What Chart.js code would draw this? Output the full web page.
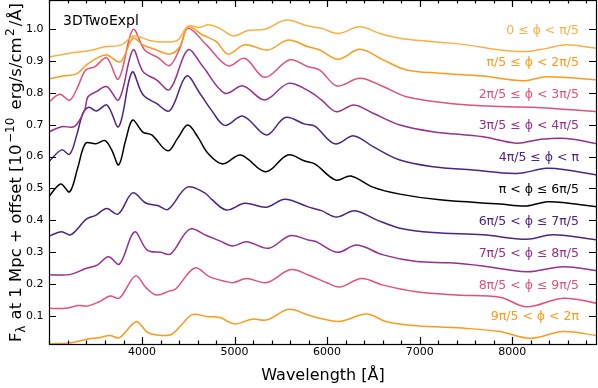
<!DOCTYPE html>
<html>
<head>
<meta charset="utf-8">
<script src="https://cdn.jsdelivr.net/npm/chart.js@4.4.0/dist/chart.umd.min.js"></script>
<style>
html, body { margin: 0; padding: 0; background: #fff; }
</style>
</head>
<body>
<canvas id="spec" width="598" height="388"></canvas>
<script>
// wavelengths [Å] and flux + offset, one pair per phase bin
const wave0 = [2990,3218,3435,3597,3777,3910,4083,4240,4386,4497,4624,4714,4840,4984,5143,5326,5561,5791,5939,6119,6354,6570,6786,7143,7507,7867,8156,8372,8588,8920];
const flux0 = [0.912,0.925,0.933,0.945,0.951,0.979,0.965,0.960,0.966,1.010,1.006,1.014,1.003,0.979,0.996,1.000,1.029,1.010,1.003,0.987,1.008,0.987,0.972,0.961,0.951,0.935,0.930,0.940,0.951,0.940];

const wave1 = [2990,3146,3291,3399,3543,3624,3766,3903,4008,4156,4299,4408,4497,4656,4804,4930,5110,5362,5579,5795,5921,6119,6354,6605,6858,7218,7683,8116,8372,8920];
const flux1 = [0.844,0.853,0.860,0.888,0.914,0.919,0.898,0.972,0.951,0.935,0.922,0.945,1.007,0.982,0.961,0.922,0.951,0.935,0.966,0.945,0.935,0.906,0.937,0.904,0.872,0.862,0.853,0.838,0.851,0.841];

const wave2 = [2990,3110,3218,3295,3391,3489,3618,3745,3903,4029,4173,4299,4408,4497,4696,4930,5110,5326,5597,5795,5921,6105,6354,6605,6858,7326,7867,8224,8920];
const flux2 = [0.770,0.796,0.777,0.812,0.872,0.882,0.910,0.844,0.999,0.935,0.911,0.886,0.940,1.003,0.951,0.885,0.909,0.849,0.904,0.882,0.872,0.822,0.846,0.820,0.788,0.767,0.757,0.755,0.741];

const wave3 = [2990,3129,3272,3381,3416,3507,3618,3748,3903,4011,4156,4299,4497,4659,4894,5092,5326,5581,5795,5939,6100,6289,6497,6786,7143,7683,8048,8299,8588,8920];
const flux3 = [0.677,0.694,0.695,0.747,0.788,0.804,0.820,0.778,0.935,0.867,0.841,0.811,0.935,0.882,0.799,0.822,0.778,0.830,0.807,0.778,0.741,0.762,0.736,0.699,0.678,0.662,0.642,0.654,0.657,0.640];

const wave4 = [2990,3132,3218,3295,3362,3427,3507,3622,3748,3892,4011,4156,4299,4480,4624,4750,4894,5092,5345,5548,5759,5867,6083,6289,6497,6786,7143,7575,8048,8372,8588,8920];
const flux4 = [0.583,0.621,0.607,0.668,0.736,0.755,0.743,0.762,0.694,0.865,0.794,0.767,0.744,0.853,0.799,0.746,0.698,0.727,0.668,0.723,0.702,0.696,0.640,0.665,0.631,0.589,0.568,0.558,0.547,0.563,0.558,0.542];

const wave5 = [2990,3121,3218,3305,3391,3499,3600,3672,3748,3824,3899,4008,4105,4278,4386,4494,4602,4710,4872,5067,5337,5575,5759,5867,6094,6256,6494,6786,7218,7867,8159,8375,8591,8920];
const flux5 = [0.473,0.514,0.489,0.564,0.642,0.640,0.650,0.621,0.574,0.652,0.715,0.677,0.668,0.618,0.658,0.699,0.662,0.611,0.577,0.605,0.552,0.605,0.586,0.577,0.526,0.539,0.504,0.482,0.464,0.451,0.445,0.458,0.454,0.442];

const wave6 = [2990,3129,3229,3402,3499,3618,3741,3899,4040,4170,4281,4489,4678,4750,4912,5110,5345,5543,5795,5939,6102,6300,6534,6786,7143,7683,8156,8440,8920];
const flux6 = [0.349,0.364,0.354,0.404,0.415,0.437,0.419,0.486,0.454,0.446,0.434,0.504,0.486,0.466,0.432,0.453,0.441,0.466,0.442,0.430,0.410,0.430,0.401,0.375,0.361,0.354,0.340,0.354,0.338];

const wave7 = [2990,3218,3391,3516,3637,3756,3918,4056,4202,4310,4516,4696,4840,4981,5129,5370,5597,5795,5878,6110,6321,6605,6966,7326,7683,8156,8551,8920];
const flux7 = [0.229,0.229,0.248,0.259,0.285,0.262,0.363,0.306,0.299,0.294,0.372,0.352,0.335,0.319,0.332,0.312,0.351,0.338,0.333,0.299,0.322,0.291,0.270,0.266,0.256,0.238,0.254,0.241];

const wave8 = [2990,3175,3308,3408,3532,3656,3756,3930,4040,4156,4299,4364,4570,4732,4912,4991,5129,5345,5608,5795,6011,6137,6372,6605,6966,7399,7867,8156,8551,8920];
const flux8 = [0.123,0.123,0.132,0.130,0.143,0.162,0.155,0.225,0.189,0.165,0.178,0.184,0.250,0.222,0.207,0.204,0.217,0.204,0.245,0.228,0.202,0.190,0.217,0.196,0.175,0.165,0.158,0.128,0.155,0.139];

const wave9 = [2990,3254,3416,3543,3651,3756,3939,4056,4159,4318,4435,4548,4705,4840,5002,5186,5354,5586,5795,5921,6137,6426,6642,6966,7507,7867,8191,8551,8920];
const flux9 = [0.011,0.016,0.027,0.031,0.038,0.031,0.081,0.048,0.039,0.041,0.074,0.104,0.097,0.094,0.074,0.089,0.087,0.120,0.102,0.092,0.082,0.105,0.081,0.068,0.060,0.050,0.029,0.050,0.037];

const phaseLabels = [
    '0 ≤ ϕ < π/5', 'π/5 ≤ ϕ < 2π/5', '2π/5 ≤ ϕ < 3π/5', '3π/5 ≤ ϕ < 4π/5', '4π/5 ≤ ϕ < π',
    'π < ϕ ≤ 6π/5', '6π/5 < ϕ ≤ 7π/5', '7π/5 < ϕ ≤ 8π/5', '8π/5 < ϕ ≤ 9π/5', '9π/5 < ϕ < 2π'
];
const xTicks = [4000, 5000, 6000, 7000, 8000];
const yTicks = [0.1, 0.2, 0.3, 0.4, 0.5, 0.6, 0.7, 0.8, 0.9, 1.0];

const waves = [wave0, wave1, wave2, wave3, wave4, wave5, wave6, wave7, wave8, wave9];
const fluxes = [flux0, flux1, flux2, flux3, flux4, flux5, flux6, flux7, flux8, flux9];

// line colours, symmetric around the black middle bin
const lineColors = ['#fcae45', '#fd9a1a', '#e3507b', '#972f8e', '#4c2484',
                    '#000000', '#4c2484', '#972f8e', '#e3507b', '#fd9a1a'];

const FONT = "'DejaVu Sans', sans-serif";

// frame, inward ticks and all the free text
const framePlugin = {
    id: 'frame',
    afterDraw(chart) {
        const ctx = chart.ctx;
        const a = chart.chartArea;
        const xs = chart.scales.x;
        const ys = chart.scales.y;
        ctx.save();
        ctx.strokeStyle = '#000';
        ctx.lineWidth = 1.2;
        ctx.strokeRect(a.left + 0.5, a.top + 0.5, a.right - a.left - 1, a.bottom - a.top);

        ctx.beginPath();
        // x major + minor ticks, bottom and top
        for (let v = 3000; v <= 8900; v += 200) {
            const px = Math.round(xs.getPixelForValue(v)) + 0.5;
            const len = xTicks.includes(v) ? 7 : 3.5;
            ctx.moveTo(px, a.bottom); ctx.lineTo(px, a.bottom - len);
            ctx.moveTo(px, a.top); ctx.lineTo(px, a.top + len);
        }
        // y ticks, left and right
        yTicks.forEach(v => {
            const py = Math.round(ys.getPixelForValue(v)) + 0.5;
            ctx.moveTo(a.left, py); ctx.lineTo(a.left + 7, py);
            ctx.moveTo(a.right, py); ctx.lineTo(a.right - 8, py);
        });
        ctx.stroke();

        // model name
        ctx.fillStyle = '#000';
        ctx.font = '14px ' + FONT;
        ctx.textAlign = 'left';
        ctx.textBaseline = 'alphabetic';
        ctx.fillText('3DTwoExpl', a.left + 14, 25);

        // phase labels
        ctx.font = '12.5px ' + FONT;
        ctx.textAlign = 'right';
        ctx.textBaseline = 'middle';
        phaseLabels.forEach((lab, i) => {
            ctx.fillStyle = lineColors[i];
            const py = ys.getPixelForValue(yTicks[yTicks.length - 1 - i]) + 1.5;
            ctx.fillText(lab, a.right - 18, py);
        });

        // x title
        ctx.fillStyle = '#000';
        ctx.font = '16px ' + FONT;
        ctx.textAlign = 'center';
        ctx.textBaseline = 'alphabetic';
        ctx.fillText('Wavelength [Å]', (a.left + a.right) / 2, 380);

        // y title with sub/superscripts
        const parts = [
            { t: 'F', size: 16.5, dy: 0, gap: 0 },
            { t: 'λ', size: 11.5, dy: 4, gap: 1 },
            { t: ' at 1 Mpc + offset [10', size: 16.5, dy: 0, gap: 1.5 },
            { t: '−10', size: 12, dy: -7, gap: 3 },
            { t: ' erg/s/cm', size: 16.5, dy: 0, gap: 1.5 },
            { t: '2', size: 12, dy: -7, gap: 2 },
            { t: '/Å]', size: 16.5, dy: 0, gap: 0 }
        ];
        let total = 0;
        parts.forEach(p => {
            ctx.font = p.size + 'px ' + FONT;
            p.w = ctx.measureText(p.t).width + p.gap;
            total += p.w;
        });
        ctx.translate(20.7, (a.top + a.bottom) / 2 + 0.5);
        ctx.rotate(-Math.PI / 2);
        ctx.textAlign = 'left';
        let x = -total / 2;
        parts.forEach(p => {
            ctx.font = p.size + 'px ' + FONT;
            ctx.fillText(p.t, x, p.dy);
            x += p.w;
        });
        ctx.restore();
    }
};

function buildDatasets() {
    return waves.map((w, i) => ({
        label: phaseLabels[i],
        data: w.map((lam, j) => ({ x: lam, y: fluxes[i][j] })),
        borderColor: lineColors[i],
        borderWidth: 1.5,
        tension: 0.35,
        pointRadius: 0,
        fill: false
    }));
}

function init() {
    const ctx = document.getElementById('spec').getContext('2d');
    new Chart(ctx, {
        type: 'line',
        data: { datasets: buildDatasets() },
        options: {
            responsive: false,
            animation: false,
            devicePixelRatio: 1,
            layout: { padding: { left: 0, right: 1, top: 0, bottom: 0 } },
            plugins: {
                legend: { display: false },
                tooltip: { enabled: false }
            },
            scales: {
                x: {
                    type: 'linear',
                    min: 2995,
                    max: 8916,
                    grid: { display: false, drawTicks: false },
                    border: { display: false },
                    afterBuildTicks: s => { s.ticks = xTicks.map(v => ({ value: v })); },
                    afterFit: s => { s.height = 44; s.paddingLeft = 0; s.paddingRight = 0; },
                    ticks: {
                        font: { family: FONT, size: 11 },
                        color: '#000',
                        padding: 2,
                        maxRotation: 0,
                        autoSkip: false,
                        callback: v => String(v)
                    }
                },
                y: {
                    min: 0.011,
                    max: 1.092,
                    grid: { display: false, drawTicks: false },
                    border: { display: false },
                    afterBuildTicks: s => { s.ticks = yTicks.map(v => ({ value: v })); },
                    afterFit: s => { s.width = 49; s.paddingTop = 0; s.paddingBottom = 0; },
                    ticks: {
                        font: { family: FONT, size: 11 },
                        color: '#000',
                        padding: 5.5,
                        autoSkip: false,
                        callback: v => v.toFixed(1)
                    }
                }
            }
        },
        plugins: [framePlugin]
    });
}

init();
</script>
</body>
</html>
